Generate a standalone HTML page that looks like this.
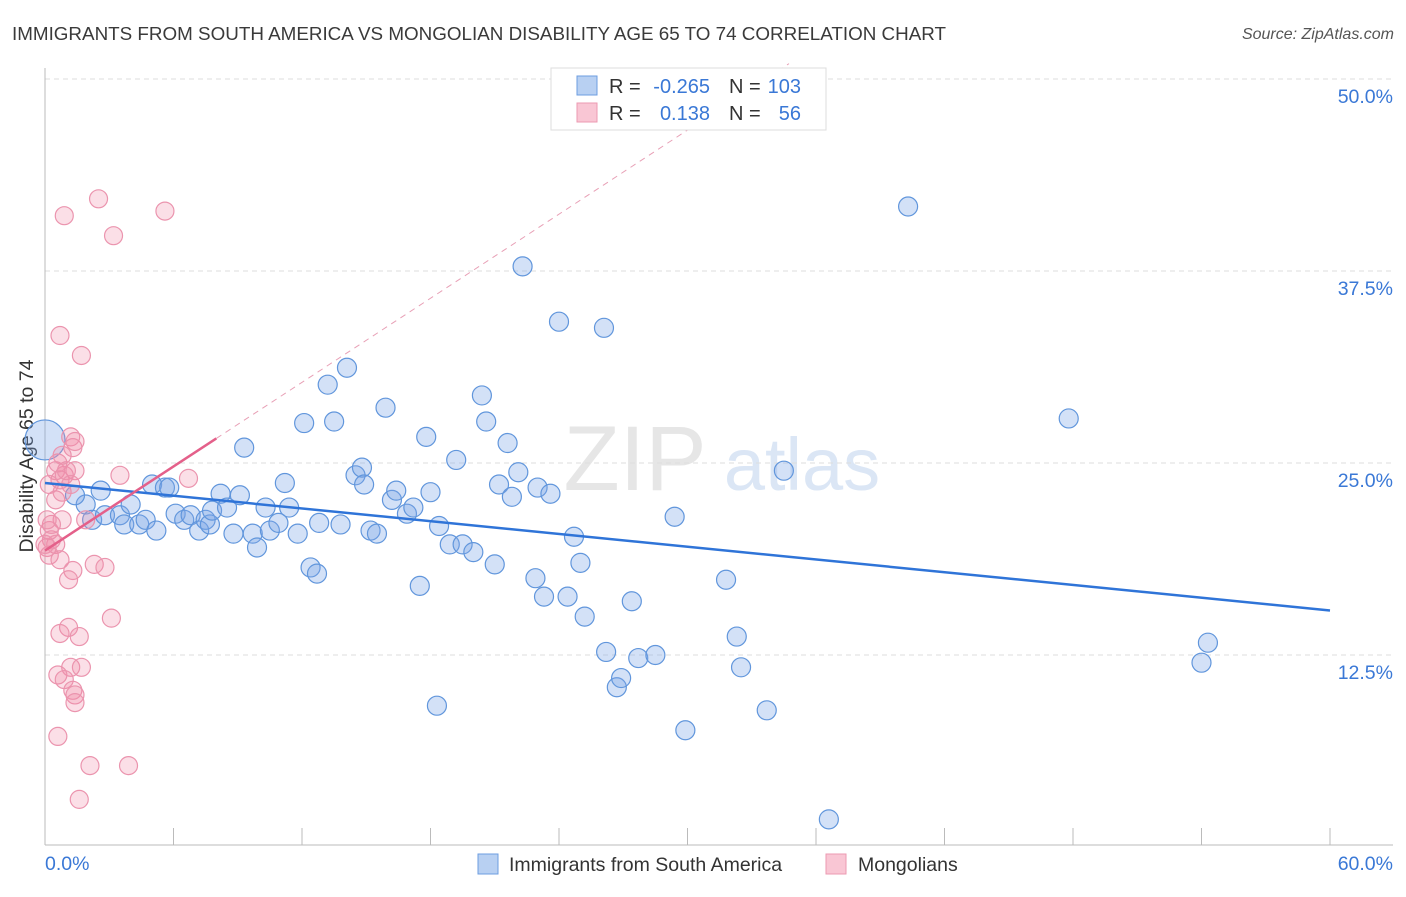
<!DOCTYPE html>
<html><head><meta charset="utf-8"><style>
body{margin:0;background:#fff;font-family:"Liberation Sans",sans-serif;}
svg text{font-family:"Liberation Sans",sans-serif;}
</style></head><body>
<svg id="chart" width="1406" height="892" xmlns="http://www.w3.org/2000/svg">
<text x="12" y="40" font-size="18.8" fill="#3a3a3a" textLength="934" lengthAdjust="spacingAndGlyphs">IMMIGRANTS FROM SOUTH AMERICA VS MONGOLIAN DISABILITY AGE 65 TO 74 CORRELATION CHART</text>
<text x="1394" y="39" font-size="16" fill="#555" text-anchor="end" font-style="italic">Source: ZipAtlas.com</text>
<text transform="translate(33,456) rotate(-90)" font-size="19.5" fill="#333" text-anchor="middle">Disability Age 65 to 74</text>
<g>
<text x="635" y="490" font-size="92" fill="#e6e6e6" font-family="Liberation Serif" text-anchor="middle">ZIP</text>
<text x="802" y="490" font-size="74" fill="#dbe6f5" text-anchor="middle">atlas</text>
</g>
<g id="grid"></g>
<g id="axes"></g>
<g id="marks"></g>
<g id="trends"></g>
<g>
<rect x="551" y="68" width="275" height="62" fill="#fff" stroke="#ddd"/>
<rect x="577" y="76" width="20" height="19" fill="#b8d0f2" stroke="#6d9ee0"/>
<rect x="577" y="103" width="20" height="19" fill="#f9c6d4" stroke="#ec9ab2"/>
<text x="609" y="93" font-size="20" fill="#333">R = </text><text x="710" y="93" font-size="20" fill="#3a78d6" text-anchor="end">-0.265</text>
<text x="729" y="93" font-size="20" fill="#333">N = </text><text x="801" y="93" font-size="20" fill="#3a78d6" text-anchor="end">103</text>
<text x="609" y="120" font-size="20" fill="#333">R = </text><text x="710" y="120" font-size="20" fill="#3a78d6" text-anchor="end">0.138</text>
<text x="729" y="120" font-size="20" fill="#333">N = </text><text x="801" y="120" font-size="20" fill="#3a78d6" text-anchor="end">56</text>
</g>
<g>
<rect x="478" y="854" width="20" height="20" fill="#b8d0f2" stroke="#6d9ee0"/>
<text x="509" y="871" font-size="19.5" fill="#333">Immigrants from South America</text>
<rect x="826" y="854" width="20" height="20" fill="#f9c6d4" stroke="#ec9ab2"/>
<text x="858" y="871" font-size="19.5" fill="#333">Mongolians</text>
</g>
</svg>
<script>
const xTicks=[0,6,12,18,24,30,36,42,48,54,60];
const yTicks=[12.5,25,37.5,50];
const yTickLabels=["12.5%","25.0%","37.5%","50.0%"];
const blueX=[0,2.6,1.9,1.4,2.2,2.8,3.5,3.7,4.4,4.0,4.7,5.0,5.2,5.6,5.8,6.1,6.5,6.8,7.2,7.5,7.7,7.8,8.2,8.5,8.8,9.1,9.3,9.7,9.9,10.3,10.5,10.9,11.2,11.4,11.8,12.1,12.4,12.7,12.8,13.2,13.5,13.8,14.1,14.5,14.8,14.9,15.2,15.5,15.9,16.2,16.4,16.9,17.2,17.5,17.8,18.0,18.3,18.4,18.9,19.2,19.5,20.0,20.4,20.6,21.0,21.2,21.6,21.8,22.1,22.3,22.9,23.0,23.3,23.6,24.0,24.4,24.7,25.0,25.2,26.1,26.2,26.7,26.9,27.7,28.5,27.4,29.4,29.9,31.8,32.3,32.5,33.7,34.5,36.6,40.3,47.8,54.0,54.3];
const blueY=[26.5,23.2,22.3,22.9,21.3,21.6,21.6,21.0,21.0,22.3,21.3,23.6,20.6,23.4,23.4,21.7,21.3,21.6,20.6,21.3,21.0,21.9,23.0,22.1,20.4,22.9,26.0,20.4,19.5,22.1,20.6,21.1,23.7,22.1,20.4,27.6,18.2,17.8,21.1,30.1,27.7,21.0,31.2,24.2,24.7,23.6,20.6,20.4,28.6,22.6,23.2,21.7,22.1,17.0,26.7,23.1,9.2,20.9,19.7,25.2,19.7,19.2,29.4,27.7,18.4,23.6,26.3,22.8,24.4,37.8,17.5,23.4,16.3,23.0,34.2,16.3,20.2,18.5,15.0,33.8,12.7,10.4,11.0,12.3,12.5,16.0,21.5,7.6,17.4,13.7,11.7,8.9,24.5,1.8,41.7,27.9,12.0,13.3];
const pinkX=[0.9,2.5,5.6,3.2,0.7,1.7,1.2,1.3,1.4,0.5,0.7,0.9,0.2,0.5,0.8,0.2,0.3,0.5,0.1,0.2,0.7,1.3,1.1,3.5,6.7,1.9,2.3,2.8,1.1,0.7,1.6,3.1,1.2,1.7,0.6,0.9,1.3,1.4,1.4,0.6,2.1,3.9,1.6,0.3,0.6,1.0,0,0.1,0.8,1.2,0.8,1.4];
const pinkY=[41.1,42.2,41.4,39.8,33.3,32.0,26.7,26.0,24.5,24.5,23.9,24.2,23.6,22.6,21.3,20.6,20.0,19.7,19.5,19.0,18.7,18.0,17.4,24.2,24.0,21.3,18.4,18.2,14.3,13.9,13.7,14.9,11.7,11.7,11.2,10.9,10.2,9.9,9.4,7.2,5.3,5.3,3.1,21.0,25.0,24.5,19.7,21.3,23.1,23.6,25.5,26.4];
const blueTrend=[23.7,15.4];
const pinkTrend=[19.3,26.6];
const pinkTrendEnd=8;
const sx=v=>45+v/60*1285;
const sy=v=>847-v/12.5*192;
const NS="http://www.w3.org/2000/svg";
function mk(tag,attrs,parent){const e=document.createElementNS(NS,tag);for(const k in attrs)e.setAttribute(k,attrs[k]);parent.appendChild(e);return e;}
const grid=document.getElementById('grid'),axes=document.getElementById('axes'),marks=document.getElementById('marks'),trends=document.getElementById('trends');
yTicks.forEach((t,i)=>{
  const l=mk('line',{x1:45,x2:1393,y1:sy(t),y2:sy(t),stroke:'#ddd','stroke-dasharray':'5,4'},grid);
  
  
  const tx=mk('text',{x:1393,y:sy(t)+24,'font-size':19.5,fill:'#3a78d6','text-anchor':'end'},axes);
  tx.textContent=yTickLabels[i];
  
  
});
const al=mk('line',{x1:45,x2:45,y1:68,y2:845,stroke:'#bbb'},axes);


const bl=mk('line',{x1:45,x2:1393,y1:845,y2:845,stroke:'#bbb'},axes);


xTicks.forEach((t)=>{
  const tk=mk('line',{x1:sx(t),x2:sx(t),y1:828,y2:845,stroke:'#bbb'},axes);
  
  
});
const xl0=mk('text',{x:45,y:870,'font-size':19.5,fill:'#3a78d6'},axes);xl0.textContent='0.0%';


const xl1=mk('text',{x:1393,y:870,'font-size':19.5,fill:'#3a78d6','text-anchor':'end'},axes);xl1.textContent='60.0%';


blueX.forEach((x,i)=>{
  const c=mk('circle',{cx:sx(x),cy:sy(blueY[i]),r:i===0?20:9.5,fill:'rgba(120,165,230,0.33)',stroke:'#6196dc','stroke-width':1.2},marks);
  
  
});
pinkX.forEach((x,i)=>{
  const c=mk('circle',{cx:sx(x),cy:sy(pinkY[i]),r:9,fill:'rgba(242,140,170,0.28)',stroke:'#eb94ae','stroke-width':1.2},marks);
  
  
});
const bt=mk('line',{x1:sx(0),y1:sy(blueTrend[0]),x2:sx(60),y2:sy(blueTrend[1]),stroke:'#2f74d8','stroke-width':2.5},trends);


const slope=(pinkTrend[1]-pinkTrend[0])/pinkTrendEnd;
const xEnd=(51-pinkTrend[0])/slope;
const pd=mk('line',{x1:sx(pinkTrendEnd),y1:sy(pinkTrend[1]),x2:sx(xEnd),y2:sy(51),stroke:'#e8a0b6','stroke-width':1,'stroke-dasharray':'6,5'},trends);


const pt=mk('line',{x1:sx(0),y1:sy(pinkTrend[0]),x2:sx(pinkTrendEnd),y2:sy(pinkTrend[1]),stroke:'#e4608a','stroke-width':2.5},trends);


</script>
</body></html>
